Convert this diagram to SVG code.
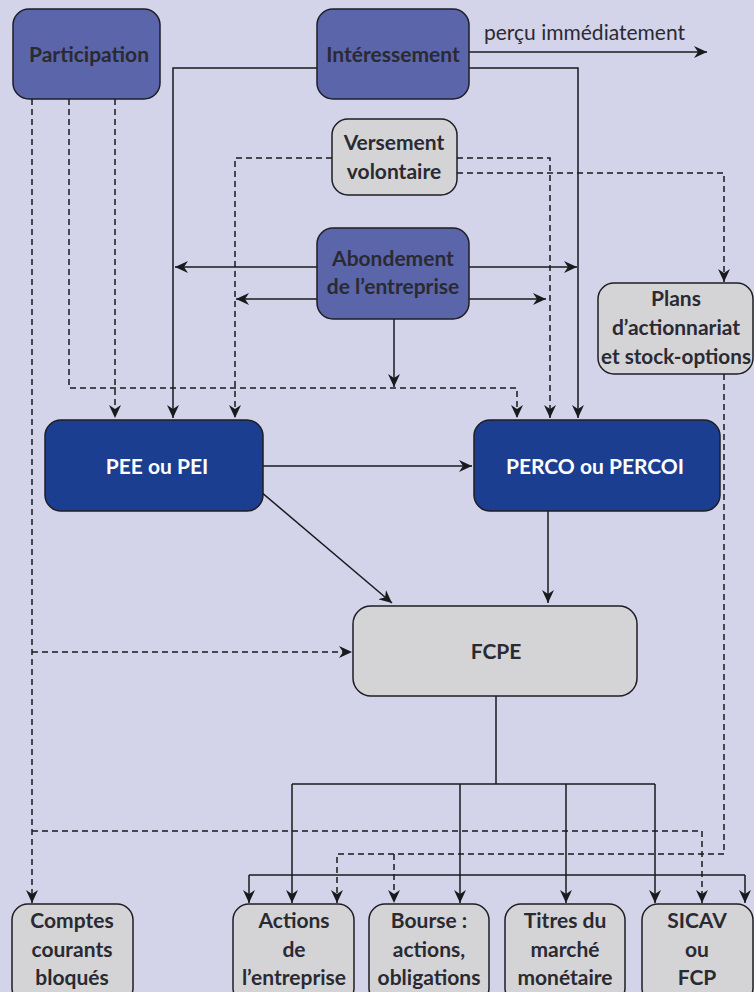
<svg xmlns="http://www.w3.org/2000/svg" width="754" height="992" viewBox="0 0 754 992">
<defs>
<style>
.bg{fill:#d3d3ea}
.n{stroke:#1e1e24;stroke-width:1.5}
.mid{fill:#5b65aa}
.dark{fill:#1c3e91}
.gray{fill:#d4d4d6}
text{font-family:Lato,"Noto Sans","Liberation Sans",sans-serif;font-weight:bold;font-size:21px;fill:#2a2a33;text-anchor:middle}
.w{fill:#ffffff}
.lbl{font-weight:normal;text-anchor:start}
.c path{fill:none;stroke:#1a1a1e;stroke-width:1.5}
.c .d{stroke-dasharray:6 4}
</style>
<marker id="a" markerUnits="userSpaceOnUse" markerWidth="14" markerHeight="12" viewBox="0 0 14 12" refX="13" refY="6" orient="auto">
<path d="M0,0 L13,6 L0,12 L4,6 z" fill="#1a1a1e"/>
</marker>
</defs>
<rect class="bg" x="0" y="0" width="754" height="992"/>
<g class="c" id="connectors">
<path d="M469,52 H707" marker-end="url(#a)"/>
<path d="M317,68 H173 V418" marker-end="url(#a)"/>
<path d="M469,68 H578 V418" marker-end="url(#a)"/>
<path d="M317,267 H175" marker-end="url(#a)"/>
<path d="M317,299 H236" marker-end="url(#a)"/>
<path d="M469,267 H577" marker-end="url(#a)"/>
<path d="M469,299 H546" marker-end="url(#a)"/>
<path d="M394,319 V387" marker-end="url(#a)"/>
<path d="M263,466 H472" marker-end="url(#a)"/>
<path d="M247,480 L392,603" marker-end="url(#a)"/>
<path d="M548,511 V603" marker-end="url(#a)"/>
<path d="M496,696 V784"/>
<path d="M292,784 H655"/>
<path d="M292,784 V903" marker-end="url(#a)"/>
<path d="M460,784 V903" marker-end="url(#a)"/>
<path d="M566,784 V903" marker-end="url(#a)"/>
<path d="M655,784 V903" marker-end="url(#a)"/>
<path d="M249,875 H745"/>
<path d="M249,875 V903" marker-end="url(#a)"/>
<path d="M745,875 V903" marker-end="url(#a)"/>
<path class="d" d="M32,99 V903" marker-end="url(#a)"/>
<path class="d" d="M32,652 H352" marker-end="url(#a)"/>
<path class="d" d="M32,831 H702 V903" marker-end="url(#a)"/>
<path class="d" d="M69,99 V388 H517 V418" marker-end="url(#a)"/>
<path class="d" d="M115,99 V418" marker-end="url(#a)"/>
<path class="d" d="M332,158 H235 V418" marker-end="url(#a)"/>
<path class="d" d="M457,158 H550 V418" marker-end="url(#a)"/>
<path class="d" d="M457,173 H724 V282" marker-end="url(#a)"/>
<path class="d" d="M724,374 V854 H337 V903" marker-end="url(#a)"/>
<path class="d" d="M394,854 V903" marker-end="url(#a)"/>
</g>
<text class="lbl" x="484" y="40">perçu immédiatement</text>
<g id="participation"><rect class="n mid" x="13" y="9" width="147" height="90" rx="16"/><text x="89" y="62">Participation</text></g>
<g id="interessement"><rect class="n mid" x="317" y="9" width="152" height="90" rx="16"/><text x="393" y="62">Intéressement</text></g>
<g id="versement"><rect class="n gray" x="332" y="119" width="125" height="76" rx="16"/><text x="394" y="150">Versement</text><text x="394" y="179">volontaire</text></g>
<g id="abondement"><rect class="n mid" x="317" y="228" width="152" height="91" rx="16"/><text x="393" y="266">Abondement</text><text x="393" y="294">de l’entreprise</text></g>
<g id="plans"><rect class="n gray" x="598" y="283" width="155" height="91" rx="16"/><text x="676" y="306">Plans</text><text x="676" y="335">d’actionnariat</text><text x="676" y="364" textLength="150" lengthAdjust="spacingAndGlyphs">et stock-options</text></g>
<g id="pee"><rect class="n dark" x="45" y="420" width="218" height="91" rx="16"/><text class="w" x="157" y="474">PEE ou PEI</text></g>
<g id="perco"><rect class="n dark" x="474" y="420" width="246" height="91" rx="16"/><text class="w" x="595" y="474">PERCO ou PERCOI</text></g>
<g id="fcpe"><rect class="n gray" x="353" y="606" width="284" height="90" rx="18"/><text x="496" y="659">FCPE</text></g>
<g id="comptes"><rect class="n gray" x="12" y="904" width="121" height="100" rx="16"/><text x="72" y="928">Comptes</text><text x="72" y="957">courants</text><text x="72" y="985">bloqués</text></g>
<g id="actions"><rect class="n gray" x="233" y="904" width="121" height="100" rx="16"/><text x="294" y="928">Actions</text><text x="294" y="957">de</text><text x="294" y="985">l’entreprise</text></g>
<g id="bourse"><rect class="n gray" x="369" y="904" width="120" height="100" rx="16"/><text x="429" y="928">Bourse :</text><text x="429" y="957">actions,</text><text x="429" y="985">obligations</text></g>
<g id="titres"><rect class="n gray" x="505" y="904" width="120" height="100" rx="16"/><text x="565" y="928">Titres du</text><text x="565" y="957">marché</text><text x="565" y="985">monétaire</text></g>
<g id="sicav"><rect class="n gray" x="642" y="904" width="111" height="100" rx="16"/><text x="697" y="928">SICAV</text><text x="697" y="957">ou</text><text x="697" y="985">FCP</text></g>
</svg>
